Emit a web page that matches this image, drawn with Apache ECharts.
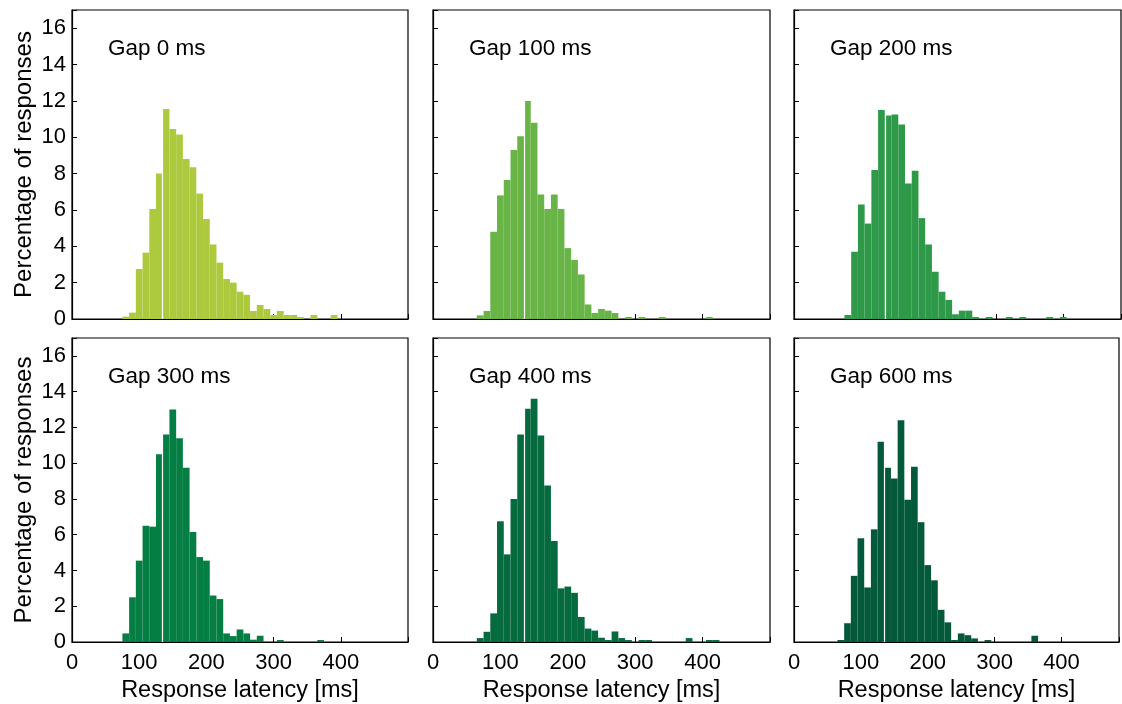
<!DOCTYPE html>
<html>
<head>
<meta charset="utf-8">
<script src="https://cdn.jsdelivr.net/npm/echarts@6/dist/echarts.min.js"></script>
<style>
  html, body { margin: 0; padding: 0; background: #fff; }
  #chart { width: 1122px; height: 704px; }
</style>
</head>
<body>
<div id="chart"></div>
<script>
// Histogram bin centres (ms); each bin is 10 ms wide
const binCenters = [70, 80, 90, 100, 110, 120, 130, 140, 150, 160, 170, 180, 190, 200,
  210, 220, 230, 240, 250, 260, 270, 280, 290, 300, 310, 320, 330, 340, 350, 360,
  370, 380, 390, 400, 410, 420];

// Percentage of responses per bin, one array per gap condition
const gap0 = [0, 0.13, 0.35, 2.75, 3.65, 6.05, 8.0, 11.55, 10.45, 10.15, 8.8, 8.35, 6.9, 5.5,
  4.1, 3.1, 2.2, 2.0, 1.5, 1.33, 0.44, 0.77, 0.55, 0.22, 0.44, 0.22, 0.22, 0.11, 0, 0.22,
  0, 0, 0.22, 0, 0, 0];
const gap100 = [0.2, 0.44, 4.8, 6.8, 7.65, 9.3, 10.05, 12.0, 10.8, 6.85, 6.05, 6.85, 6.05, 3.9,
  3.25, 2.45, 0.8, 0.33, 0.55, 0.46, 0.33, 0, 0.11, 0, 0.11, 0, 0, 0.11, 0, 0,
  0, 0, 0, 0, 0.11, 0];
const gap200 = [0, 0.22, 3.7, 6.3, 5.25, 8.2, 11.5, 11.2, 11.25, 10.7, 7.45, 8.15, 5.55, 4.1,
  2.6, 1.5, 1.05, 0.26, 0.46, 0.46, 0.11, 0, 0.11, 0, 0, 0.11, 0, 0.11, 0, 0,
  0, 0.11, 0, 0.11, 0, 0];
const gap300 = [0, 0.48, 2.5, 4.55, 6.5, 6.45, 10.5, 11.6, 13.0, 11.4, 9.75, 6.15, 4.75, 4.55,
  2.6, 2.4, 0.48, 0.33, 0.7, 0.48, 0.13, 0.35, 0, 0, 0.11, 0, 0, 0, 0, 0,
  0.11, 0, 0, 0, 0, 0];
const gap400 = [0.22, 0.57, 1.6, 6.75, 4.9, 8.0, 11.6, 13.05, 13.6, 11.55, 8.75, 5.65, 3.0, 3.1,
  2.75, 1.4, 0.75, 0.64, 0.24, 0.11, 0.59, 0.22, 0.11, 0, 0.11, 0.11, 0, 0, 0, 0,
  0, 0.22, 0, 0, 0.11, 0.11];
const gap600 = [0.11, 1.05, 3.7, 5.8, 3.05, 6.3, 11.2, 9.75, 9.15, 12.4, 7.95, 9.8, 6.7, 4.3,
  3.45, 1.8, 1.1, 0.11, 0.48, 0.38, 0.2, 0, 0.11, 0, 0, 0, 0, 0, 0, 0.35,
  0, 0, 0, 0, 0, 0];

const panelLabels = ['Gap 0 ms', 'Gap 100 ms', 'Gap 200 ms', 'Gap 300 ms', 'Gap 400 ms', 'Gap 600 ms'];
const panelValues = [gap0, gap100, gap200, gap300, gap400, gap600];
const panelColors = ['#adca3f', '#69b446', '#2e9a49', '#047e43', '#066a3f', '#04593a'];

const xTicks = [0, 100, 200, 300, 400];
const yTicks = [0, 2, 4, 6, 8, 10, 12, 14, 16];
const markerLatency = 135;

const FONT = 'Liberation Sans, Arial, Helvetica, sans-serif';
const colLeft = [72, 433, 794];
const colWidth = [336, 337, 327];
const rowTop = [10, 338];
const rowHeight = [309, 310];
const xMaxCol = [500, 500, 486];

const grids = [], xAxes = [], yAxes = [], series = [], titles = [];

panelValues.forEach((vals, i) => {
  const row = Math.floor(i / 3), col = i % 3;
  const firstCol = col === 0, bottomRow = row === 1;
  grids.push({
    left: colLeft[col], top: rowTop[row], width: colWidth[col], height: rowHeight[row],
    show: true, borderColor: '#000', borderWidth: 1.2, backgroundColor: '#fff'
  });
  xAxes.push({
    gridIndex: i, type: 'value', min: 0, max: xMaxCol[col], interval: 100,
    axisLine: { show: true, onZero: false, lineStyle: { color: '#000', width: 1.2 } },
    axisTick: { show: true, inside: true, length: 5, lineStyle: { color: '#000', width: 1 } },
    axisLabel: {
      show: bottomRow, color: '#000', fontSize: 22, fontFamily: FONT, margin: 10,
      formatter: v => (xTicks.indexOf(v) >= 0 ? String(v) : '')
    },
    splitLine: { show: false },
    name: bottomRow ? 'Response latency [ms]' : '',
    nameLocation: 'middle', nameGap: 37,
    nameTextStyle: { color: '#000', fontSize: 23.5, fontFamily: FONT }
  });
  yAxes.push({
    gridIndex: i, type: 'value', min: 0, max: 17, interval: 2,
    axisLine: { show: true, lineStyle: { color: '#000', width: 1.2 } },
    axisTick: { show: true, inside: true, length: 5, lineStyle: { color: '#000', width: 1 } },
    axisLabel: {
      show: firstCol, color: '#000', fontSize: 22, fontFamily: FONT, margin: 6,
      formatter: v => (yTicks.indexOf(v) >= 0 ? String(v) : '')
    },
    splitLine: { show: false },
    name: firstCol ? 'Percentage of responses' : '',
    nameLocation: 'middle', nameRotate: 90, nameGap: 36,
    nameTextStyle: { color: '#000', fontSize: 24, fontFamily: FONT }
  });
  const data = [];
  binCenters.forEach((c, k) => { if (vals[k] > 0) data.push([c, vals[k]]); });
  series.push({
    type: 'custom', xAxisIndex: i, yAxisIndex: i, clip: true,
    itemStyle: { color: panelColors[i] },
    encode: { x: 0, y: 1 },
    data: data,
    renderItem: (params, api) => {
      const c = api.value(0), v = api.value(1);
      const p0 = api.coord([c - 5, v]);
      const p1 = api.coord([c + 5, 0]);
      return {
        type: 'rect',
        shape: { x: p0[0], y: p0[1], width: p1[0] - p0[0], height: p1[1] - p0[1] },
        style: { fill: api.visual('color') }
      };
    },
    markLine: {
      silent: true, symbol: 'none', animation: false,
      label: { show: false },
      lineStyle: { color: '#fff', width: 1.2, type: 'solid' },
      data: [[{ coord: [markerLatency, 0] }, { coord: [markerLatency, 16.5] }]]
    },
    z: 2
  });
  titles.push({
    text: panelLabels[i],
    left: colLeft[col] + 31, top: rowTop[row] + 22,
    textStyle: { color: '#000', fontSize: 22.5, fontWeight: 'normal', fontFamily: FONT }
  });
});

const chart = echarts.init(document.getElementById('chart'), null, { renderer: 'canvas' });
chart.setOption({
  animation: false,
  backgroundColor: '#fff',
  title: titles,
  grid: grids,
  xAxis: xAxes,
  yAxis: yAxes,
  series: series
});
</script>
</body>
</html>
